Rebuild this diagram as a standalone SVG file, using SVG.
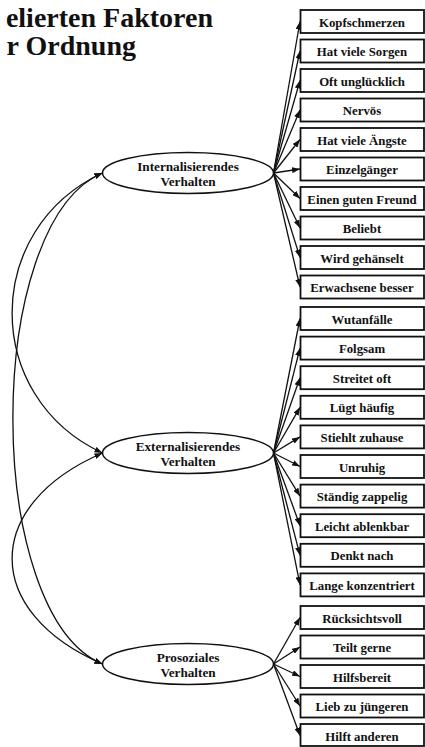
<svg xmlns="http://www.w3.org/2000/svg" width="425" height="747" viewBox="0 0 425 747">
  <style>
    text { font-family: "Liberation Serif", "Times New Roman", serif; font-weight: bold; fill: #111; }
    .title { font-size: 28px; }
    .lbl { font-size: 12.8px; text-anchor: middle; }
    .lat { font-size: 13.2px; text-anchor: middle; }
    .box { fill: #fff; stroke: #111; stroke-width: 1.8; }
    .ell { fill: #fff; stroke: #111; stroke-width: 1.5; }
    .path { fill: none; stroke: #111; stroke-width: 1.3; marker-end: url(#ah); }
    .cov { fill: none; stroke: #111; stroke-width: 1.3; marker-start: url(#ah2); marker-end: url(#ah2); }
  </style>
  <defs>
    <marker id="ah" viewBox="0 0 8 6" refX="8" refY="3" markerWidth="8" markerHeight="6" markerUnits="userSpaceOnUse" orient="auto">
      <path d="M0,0 L8,3 L0,6 z" fill="#111"/>
    </marker>
    <marker id="ah2" viewBox="0 0 8 6" refX="8" refY="3" markerWidth="8" markerHeight="6" markerUnits="userSpaceOnUse" orient="auto-start-reverse">
      <path d="M0,0 L8,3 L0,6 z" fill="#111"/>
    </marker>
  </defs>

  <!-- title (left part cut off by the frame) -->
  <g id="title">
    <text class="title" x="213" y="27" text-anchor="end">elierten Faktoren</text>
    <text class="title" x="136" y="55" text-anchor="end">r Ordnung</text>
  </g>

  <!-- connectors -->
  <g id="connectors">
    <!-- covariances between the latent factors -->
    <path class="cov" d="M102.5,173 C -18,229 -18,397 102.5,453"/>
    <path class="cov" d="M102.5,173 C -17,223 -17,614 102.5,664"/>
    <path class="cov" d="M102.5,453 C -18,505 -18,612 102.5,664"/>

    <!-- loadings: Internalisierendes Verhalten -->
    <path class="path" d="M273.5,173 L300,21.5"/>
    <path class="path" d="M273.5,173 L300,51"/>
    <path class="path" d="M273.5,173 L300,80.5"/>
    <path class="path" d="M273.5,173 L300,110"/>
    <path class="path" d="M273.5,173 L300,139.5"/>
    <path class="path" d="M273.5,173 L300,169"/>
    <path class="path" d="M273.5,173 L300,198.5"/>
    <path class="path" d="M273.5,173 L300,228"/>
    <path class="path" d="M273.5,173 L300,257.5"/>
    <path class="path" d="M273.5,173 L300,287"/>

    <!-- loadings: Externalisierendes Verhalten -->
    <path class="path" d="M273.5,453 L300,318.5"/>
    <path class="path" d="M273.5,453 L300,348.1"/>
    <path class="path" d="M273.5,453 L300,377.7"/>
    <path class="path" d="M273.5,453 L300,407.3"/>
    <path class="path" d="M273.5,453 L300,436.9"/>
    <path class="path" d="M273.5,453 L300,466.5"/>
    <path class="path" d="M273.5,453 L300,496.1"/>
    <path class="path" d="M273.5,453 L300,525.7"/>
    <path class="path" d="M273.5,453 L300,555.3"/>
    <path class="path" d="M273.5,453 L300,584.9"/>

    <!-- loadings: Prosoziales Verhalten -->
    <path class="path" d="M273.5,664 L300,617.5"/>
    <path class="path" d="M273.5,664 L300,647"/>
    <path class="path" d="M273.5,664 L300,676.5"/>
    <path class="path" d="M273.5,664 L300,706"/>
    <path class="path" d="M273.5,664 L300,735.5"/>
  </g>

  <!-- latent factors -->
  <g id="f-int">
    <ellipse class="ell" cx="188" cy="173" rx="85.5" ry="20.5"/>
    <text class="lat" x="188" y="170.5">Internalisierendes</text>
    <text class="lat" x="188" y="186">Verhalten</text>
  </g>
  <g id="f-ext">
    <ellipse class="ell" cx="188" cy="453" rx="85.5" ry="20.5"/>
    <text class="lat" x="188" y="450.5">Externalisierendes</text>
    <text class="lat" x="188" y="466">Verhalten</text>
  </g>
  <g id="f-pro">
    <ellipse class="ell" cx="188" cy="664" rx="85.5" ry="20.5"/>
    <text class="lat" x="188" y="661.5">Prosoziales</text>
    <text class="lat" x="188" y="677">Verhalten</text>
  </g>

  <!-- indicators -->
  <g id="i01"><rect class="box" x="300.5" y="10" width="123.5" height="23"/><text class="lbl" x="362" y="26.5">Kopfschmerzen</text></g>
  <g id="i02"><rect class="box" x="300.5" y="39.5" width="123.5" height="23"/><text class="lbl" x="362" y="56">Hat viele Sorgen</text></g>
  <g id="i03"><rect class="box" x="300.5" y="69" width="123.5" height="23"/><text class="lbl" x="362" y="85.5">Oft unglücklich</text></g>
  <g id="i04"><rect class="box" x="300.5" y="98.5" width="123.5" height="23"/><text class="lbl" x="362" y="115">Nervös</text></g>
  <g id="i05"><rect class="box" x="300.5" y="128" width="123.5" height="23"/><text class="lbl" x="362" y="144.5">Hat viele Ängste</text></g>
  <g id="i06"><rect class="box" x="300.5" y="157.5" width="123.5" height="23"/><text class="lbl" x="362" y="174">Einzelgänger</text></g>
  <g id="i07"><rect class="box" x="300.5" y="187" width="123.5" height="23"/><text class="lbl" x="362" y="203.5">Einen guten Freund</text></g>
  <g id="i08"><rect class="box" x="300.5" y="216.5" width="123.5" height="23"/><text class="lbl" x="362" y="233">Beliebt</text></g>
  <g id="i09"><rect class="box" x="300.5" y="246" width="123.5" height="23"/><text class="lbl" x="362" y="262.5">Wird gehänselt</text></g>
  <g id="i10"><rect class="box" x="300.5" y="275.5" width="123.5" height="23"/><text class="lbl" x="362" y="292">Erwachsene besser</text></g>

  <g id="i11"><rect class="box" x="300.5" y="307" width="123.5" height="23"/><text class="lbl" x="362" y="323.5">Wutanfälle</text></g>
  <g id="i12"><rect class="box" x="300.5" y="336.6" width="123.5" height="23"/><text class="lbl" x="362" y="353.1">Folgsam</text></g>
  <g id="i13"><rect class="box" x="300.5" y="366.2" width="123.5" height="23"/><text class="lbl" x="362" y="382.7">Streitet oft</text></g>
  <g id="i14"><rect class="box" x="300.5" y="395.8" width="123.5" height="23"/><text class="lbl" x="362" y="412.3">Lügt häufig</text></g>
  <g id="i15"><rect class="box" x="300.5" y="425.4" width="123.5" height="23"/><text class="lbl" x="362" y="441.9">Stiehlt zuhause</text></g>
  <g id="i16"><rect class="box" x="300.5" y="455" width="123.5" height="23"/><text class="lbl" x="362" y="471.5">Unruhig</text></g>
  <g id="i17"><rect class="box" x="300.5" y="484.6" width="123.5" height="23"/><text class="lbl" x="362" y="501.1">Ständig zappelig</text></g>
  <g id="i18"><rect class="box" x="300.5" y="514.2" width="123.5" height="23"/><text class="lbl" x="362" y="530.7">Leicht ablenkbar</text></g>
  <g id="i19"><rect class="box" x="300.5" y="543.8" width="123.5" height="23"/><text class="lbl" x="362" y="560.3">Denkt nach</text></g>
  <g id="i20"><rect class="box" x="300.5" y="573.4" width="123.5" height="23"/><text class="lbl" x="362" y="589.9">Lange konzentriert</text></g>

  <g id="i21"><rect class="box" x="300.5" y="606" width="123.5" height="23"/><text class="lbl" x="362" y="622.5">Rücksichtsvoll</text></g>
  <g id="i22"><rect class="box" x="300.5" y="635.5" width="123.5" height="23"/><text class="lbl" x="362" y="652">Teilt gerne</text></g>
  <g id="i23"><rect class="box" x="300.5" y="665" width="123.5" height="23"/><text class="lbl" x="362" y="681.5">Hilfsbereit</text></g>
  <g id="i24"><rect class="box" x="300.5" y="694.5" width="123.5" height="23"/><text class="lbl" x="362" y="711">Lieb zu jüngeren</text></g>
  <g id="i25"><rect class="box" x="300.5" y="724" width="123.5" height="22"/><text class="lbl" x="362" y="740.5">Hilft anderen</text></g>
</svg>
